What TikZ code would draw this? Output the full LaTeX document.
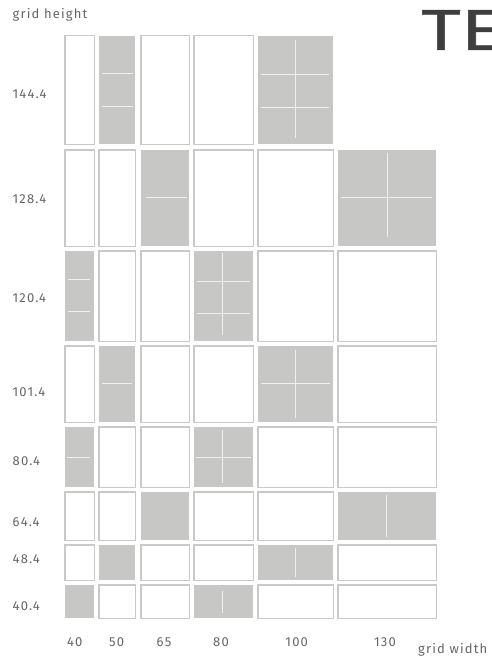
\documentclass[tikz,border=0pt]{standalone}
\usepackage{fontspec}
\setmainfont{Fira Sans}
\newfontfamily\labfont[LetterSpace=9]{Fira Sans}
\newfontfamily\titlefont[FakeBold=0.8]{Fira Sans}
\definecolor{cellgray}{HTML}{C7C7C5}
\definecolor{edgegray}{HTML}{C9C9C9}
\definecolor{guide}{HTML}{F0F0F0}
\definecolor{labelgray}{HTML}{666666}
\definecolor{titlegray}{HTML}{3E3E3E}
\tikzset{
  wcell/.style={draw=edgegray, line width=1.5pt, fill=white, inner sep=0pt, outer sep=0pt},
  gcell/.style={fill=cellgray, inner sep=0pt, outer sep=0pt},
  guideline/.style={draw=guide, line width=0.9pt},
  lab/.style={text=labelgray, font=\labfont\fontsize{13}{13}\selectfont, inner sep=0pt},
}
% \gridcell{name}{style}{x1}{y1}{x2}{y2}
\newcommand\gridcell[6]{%
  \node[#2, minimum width={(#5-#3-1.5)*1pt}, minimum height={(#6-#4-1.5)*1pt}]
    (#1) at ({(#3+#5)/2},{(#4+#6)/2}) {};}
\begin{document}
\begin{tikzpicture}[x=1pt,y=-1pt]
\useasboundingbox (0,0) rectangle (491,658);
% column bounds
\def\ca{64}\def\cA{95}
\def\cb{98}\def\cB{136}
\def\cc{140}\def\cC{190}
\def\cd{193}\def\cD{254}
\def\ce{257}\def\cE{334}
\def\cf{337}\def\cF{437}
% row 1
\gridcell{r1c1}{wcell}{\ca}{35}{\cA}{145}
\gridcell{r1c2}{gcell}{\cb}{35}{\cB}{145}
\gridcell{r1c3}{wcell}{\cc}{35}{\cC}{145}
\gridcell{r1c4}{wcell}{\cd}{35}{\cD}{145}
\gridcell{r1c5}{gcell}{\ce}{35}{\cE}{145}
% row 2
\gridcell{r2c1}{wcell}{\ca}{149}{\cA}{247}
\gridcell{r2c2}{wcell}{\cb}{149}{\cB}{247}
\gridcell{r2c3}{gcell}{\cc}{149}{\cC}{247}
\gridcell{r2c4}{wcell}{\cd}{149}{\cD}{247}
\gridcell{r2c5}{wcell}{\ce}{149}{\cE}{247}
\gridcell{r2c6}{gcell}{\cf}{149}{\cF}{247}
% row 3
\gridcell{r3c1}{gcell}{\ca}{250}{\cA}{342}
\gridcell{r3c2}{wcell}{\cb}{250}{\cB}{342}
\gridcell{r3c3}{wcell}{\cc}{250}{\cC}{342}
\gridcell{r3c4}{gcell}{\cd}{250}{\cD}{342}
\gridcell{r3c5}{wcell}{\ce}{250}{\cE}{342}
\gridcell{r3c6}{wcell}{\cf}{250}{\cF}{342}
% row 4
\gridcell{r4c1}{wcell}{\ca}{345}{\cA}{423}
\gridcell{r4c2}{gcell}{\cb}{345}{\cB}{423}
\gridcell{r4c3}{wcell}{\cc}{345}{\cC}{423}
\gridcell{r4c4}{wcell}{\cd}{345}{\cD}{423}
\gridcell{r4c5}{gcell}{\ce}{345}{\cE}{423}
\gridcell{r4c6}{wcell}{\cf}{345}{\cF}{423}
% row 5
\gridcell{r5c1}{gcell}{\ca}{426}{\cA}{488}
\gridcell{r5c2}{wcell}{\cb}{426}{\cB}{488}
\gridcell{r5c3}{wcell}{\cc}{426}{\cC}{488}
\gridcell{r5c4}{gcell}{\cd}{426}{\cD}{488}
\gridcell{r5c5}{wcell}{\ce}{426}{\cE}{488}
\gridcell{r5c6}{wcell}{\cf}{426}{\cF}{488}
% row 6
\gridcell{r6c1}{wcell}{\ca}{491}{\cA}{541}
\gridcell{r6c2}{wcell}{\cb}{491}{\cB}{541}
\gridcell{r6c3}{gcell}{\cc}{491}{\cC}{541}
\gridcell{r6c4}{wcell}{\cd}{491}{\cD}{541}
\gridcell{r6c5}{wcell}{\ce}{491}{\cE}{541}
\gridcell{r6c6}{gcell}{\cf}{491}{\cF}{541}
% row 7
\gridcell{r7c1}{wcell}{\ca}{544}{\cA}{581}
\gridcell{r7c2}{gcell}{\cb}{544}{\cB}{581}
\gridcell{r7c3}{wcell}{\cc}{544}{\cC}{581}
\gridcell{r7c4}{wcell}{\cd}{544}{\cD}{581}
\gridcell{r7c5}{gcell}{\ce}{544}{\cE}{581}
\gridcell{r7c6}{wcell}{\cf}{544}{\cF}{581}
% row 8
\gridcell{r8c1}{gcell}{\ca}{584}{\cA}{619}
\gridcell{r8c2}{wcell}{\cb}{584}{\cB}{619}
\gridcell{r8c3}{wcell}{\cc}{584}{\cC}{619}
\gridcell{r8c4}{gcell}{\cd}{584}{\cD}{619}
\gridcell{r8c5}{wcell}{\ce}{584}{\cE}{619}
\gridcell{r8c6}{wcell}{\cf}{584}{\cF}{619}
% guide lines inside the shaded cells
\draw[guideline] (102,73.5) -- (133,73.5) (102,106) -- (133,106);
\draw[guideline] (261,74.5) -- (329,74.5) (261,107.5) -- (329,107.5) (295.7,40) -- (295.7,138);
\draw[guideline] (145.5,197.5) -- (187,197.5);
\draw[guideline] (341,197.5) -- (432,197.5) (387,152.5) -- (387,236.5);
\draw[guideline] (67.5,279) -- (90,279) (67.5,311.5) -- (90,311.5);
\draw[guideline] (197,281) -- (250,281) (197,313.5) -- (250,313.5) (222.7,252.5) -- (222.7,335);
\draw[guideline] (101.5,383.5) -- (132,383.5);
\draw[guideline] (261,383.5) -- (330,383.5) (295.3,350) -- (295.3,418);
\draw[guideline] (67,457.3) -- (90,457.3);
\draw[guideline] (196,457.3) -- (251,457.3) (222.7,429.5) -- (222.7,482.5);
\draw[guideline] (386.3,495) -- (386.3,536.5);
\draw[guideline] (295.3,547.5) -- (295.3,576.5);
\draw[guideline] (222.7,591) -- (222.7,613);
% labels
\node[lab, anchor=west] (gh) at (12.5,15) {grid height};
\node[lab, anchor=west] (h1) at (12.5,94) {144.4};
\node[lab, anchor=west] (h2) at (12.5,199) {128.4};
\node[lab, anchor=west] (h3) at (12.5,298.5) {120.4};
\node[lab, anchor=west] (h4) at (12.5,392.5) {101.4};
\node[lab, anchor=west] (h5) at (12.5,461.5) {80.4};
\node[lab, anchor=west] (h6) at (12.5,522) {64.4};
\node[lab, anchor=west] (h7) at (12.5,559.5) {48.4};
\node[lab, anchor=west] (h8) at (12.5,606.5) {40.4};
\node[lab] (w1) at (74.7,642) {40};
\node[lab] (w2) at (116.7,642) {50};
\node[lab] (w3) at (164,642) {65};
\node[lab] (w4) at (221,642) {80};
\node[lab] (w5) at (296.7,642) {100};
\node[lab] (w6) at (385,642) {130};
\node[lab, anchor=west] (gw) at (418,650) {grid width};
\node[anchor=base west, inner sep=0pt, text=titlegray, font=\titlefont\fontsize{58}{58}\selectfont] (title) at (421,50) {\scalebox{1.32}[1]{TE}};
\end{tikzpicture}
\end{document}
